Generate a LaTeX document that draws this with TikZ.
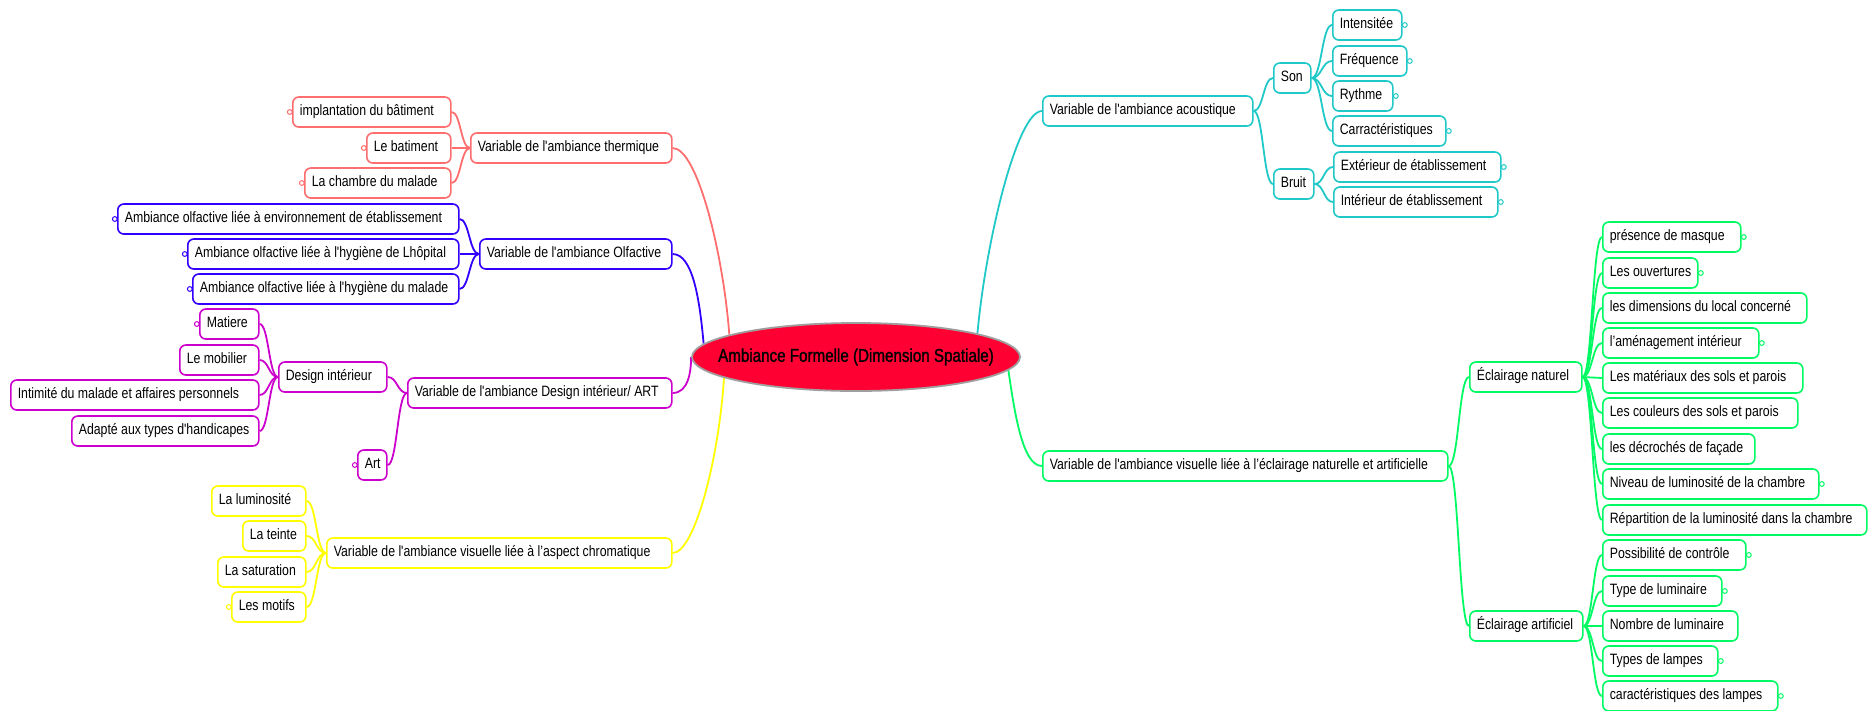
\documentclass[tikz,border=0pt]{standalone}
\usepackage{fontspec}
\newfontfamily\mapfont{Liberation Sans}[FakeStretch=0.82,Ligatures=TeXOff]
\newfontfamily\rootfont{Liberation Sans}[FakeStretch=0.82,FakeBold=1.2,Ligatures=TeXOff]
\usetikzlibrary{shapes.geometric,calc,backgrounds}

\definecolor{thermc}{RGB}{255,110,110}
\definecolor{olfc}{RGB}{51,0,255}
\definecolor{desc}{RGB}{204,0,204}
\definecolor{chromc}{RGB}{255,255,0}
\definecolor{acouc}{RGB}{32,200,200}
\definecolor{visc}{RGB}{0,250,100}
\definecolor{rootc}{RGB}{255,0,51}

\tikzset{
  mmbox/.style={draw=#1, line width=1.6pt, rounded corners=6pt, fill=white,
    minimum height=30pt, inner xsep=7pt, inner ysep=0pt,
    text height=11pt, text depth=3.5pt,
    font=\mapfont\fontsize{15}{18}\selectfont},
  link/.style={draw=#1, line width=1.8pt},
  knob/.style={draw=#1, line width=1pt, fill=white},
}

% box: name, colour, left x, right x, centre y, text
\newcommand\mmnode[6]{\node[mmbox=#2, anchor=west] (#1) at (#3,#5)
  {\makebox[\dimexpr#4pt-#3pt-14pt\relax][l]{#6}};}
% bracket-shaped link between two anchors
\newcommand\branch[3]{\draw[link=#1] let \p1=(#2), \p2=(#3) in
  (\p1) .. controls ({(\x1+\x2)/2},\y1) and ({(\x1+\x2)/2},\y2) .. (\p2);}
% small collapse knobs on the outer side of a box
\newcommand\knobL[2]{\draw[knob=#1] ([xshift=-2.2pt]#2.west) circle (2.4pt);}
\newcommand\knobR[2]{\draw[knob=#1] ([xshift=2.2pt]#2.east) circle (2.4pt);}

\begin{document}
\begin{tikzpicture}[x=1pt,y=-1pt]
\useasboundingbox (0,0) rectangle (1870,710);

% central topic
\node[ellipse, fill=rootc, draw=gray!75, line width=1.8pt,
      minimum width=328pt, minimum height=68pt, inner sep=0pt,
      font=\rootfont\fontsize{18.5}{22}\selectfont] (root) at (856,357)
  {\makebox[0pt]{Ambiance Formelle (Dimension Spatiale)}};

% ---- thermal ----
\mmnode{T}{thermc}{470}{671}{148}{Variable de l'ambiance thermique}
\mmnode{T1}{thermc}{292}{450}{112}{implantation du bâtiment}
\mmnode{T2}{thermc}{366}{450}{148}{Le batiment}
\mmnode{T3}{thermc}{304}{450}{183}{La chambre du malade}

% ---- olfactory ----
\mmnode{O}{olfc}{479}{671}{254}{Variable de l'ambiance Olfactive}
\mmnode{O1}{olfc}{117}{458}{219}{Ambiance olfactive liée à environnement de établissement}
\mmnode{O2}{olfc}{187}{458}{254}{Ambiance olfactive liée à l'hygiène de Lhôpital}
\mmnode{O3}{olfc}{192}{458}{289}{Ambiance olfactive liée à l'hygiène du malade}

% ---- interior design ----
\mmnode{D}{desc}{407}{671}{393}{Variable de l'ambiance Design intérieur/ ART}
\mmnode{DI}{desc}{278}{386}{377}{Design intérieur}
\mmnode{DA}{desc}{357}{386}{465}{Art}
\mmnode{M1}{desc}{199}{258}{324}{Matiere}
\mmnode{M2}{desc}{179}{258}{360}{Le mobilier}
\mmnode{M3}{desc}{10}{258}{395}{Intimité du malade et affaires personnels}
\mmnode{M4}{desc}{71}{258}{431}{Adapté aux types d'handicapes}

% ---- chromatic ----
\mmnode{C}{chromc}{326}{671}{553}{Variable de l'ambiance visuelle liée à l’aspect chromatique}
\mmnode{C1}{chromc}{211}{305}{501}{La luminosité}
\mmnode{C2}{chromc}{242}{305}{536}{La teinte}
\mmnode{C3}{chromc}{217}{305}{572}{La saturation}
\mmnode{C4}{chromc}{231}{305}{607}{Les motifs}

% ---- acoustic ----
\mmnode{A}{acouc}{1042}{1252}{111}{Variable de l'ambiance acoustique}
\mmnode{S}{acouc}{1273}{1310}{78}{Son}
\mmnode{B}{acouc}{1273}{1313}{184}{Bruit}
\mmnode{S1}{acouc}{1332}{1401}{25}{Intensitée}
\mmnode{S2}{acouc}{1332}{1406}{61}{Fréquence}
\mmnode{S3}{acouc}{1332}{1392}{96}{Rythme}
\mmnode{S4}{acouc}{1332}{1445}{131}{Carractéristiques}
\mmnode{B1}{acouc}{1333}{1500}{167}{Extérieur de établissement}
\mmnode{B2}{acouc}{1333}{1497}{202}{Intérieur de établissement}

% ---- lighting ----
\mmnode{V}{visc}{1042}{1447}{466}{Variable de l'ambiance visuelle liée à l’éclairage naturelle et artificielle}
\mmnode{N}{visc}{1469}{1581}{377}{Éclairage naturel}
\mmnode{F}{visc}{1469}{1582}{626}{Éclairage artificiel}
\mmnode{N1}{visc}{1602}{1740}{237}{présence de masque}
\mmnode{N2}{visc}{1602}{1697}{273}{Les ouvertures}
\mmnode{N3}{visc}{1602}{1806}{308}{les dimensions du local concerné}
\mmnode{N4}{visc}{1602}{1758}{343}{l’aménagement intérieur}
\mmnode{N5}{visc}{1602}{1802}{378}{Les matériaux des sols et parois}
\mmnode{N6}{visc}{1602}{1797}{413}{Les couleurs des sols et parois}
\mmnode{N7}{visc}{1602}{1754}{449}{les décrochés de façade}
\mmnode{N8}{visc}{1602}{1818}{484}{Niveau de luminosité de la chambre}
\mmnode{N9}{visc}{1602}{1866}{520}{Répartition de la luminosité dans la chambre}
\mmnode{F1}{visc}{1602}{1745}{555}{Possibilité de contrôle}
\mmnode{F2}{visc}{1602}{1721}{591}{Type de luminaire}
\mmnode{F3}{visc}{1602}{1737}{626}{Nombre de luminaire}
\mmnode{F4}{visc}{1602}{1717}{661}{Types de lampes}
\mmnode{F5}{visc}{1602}{1777}{696}{caractéristiques des lampes}

% knobs
\knobL{thermc}{T1}\knobL{thermc}{T2}\knobL{thermc}{T3}
\knobL{olfc}{O1}\knobL{olfc}{O2}\knobL{olfc}{O3}
\knobL{desc}{M1}\knobL{desc}{DA}
\knobL{chromc}{C4}
\knobR{acouc}{S1}\knobR{acouc}{S2}\knobR{acouc}{S3}\knobR{acouc}{S4}
\knobR{acouc}{B1}\knobR{acouc}{B2}
\knobR{visc}{N1}\knobR{visc}{N2}\knobR{visc}{N4}\knobR{visc}{N8}
\knobR{visc}{F1}\knobR{visc}{F2}\knobR{visc}{F4}\knobR{visc}{F5}

\begin{pgfonlayer}{background}
  % main branches
  \draw[link=thermc] (T.east) .. controls +(25,0) and +(-6,-80) .. (root.170);
  \draw[link=olfc] (O.east) .. controls +(20,0) and +(-4,-45) .. (root.175);
  \draw[link=desc] (D.east) .. controls +(16,0) and +(0,14) .. (root.west);
  \draw[link=chromc] (C.east) .. controls +(22,0) and +(-5,80) .. (root.189);
  \draw[link=acouc] (root.11) .. controls +(8,-90) and +(-25,0) .. (A.west);
  \draw[link=visc] (root.355) .. controls +(6,40) and +(-20,0) .. (V.west);

  % sub-branches, left side
  \foreach \c in {T1,T2,T3} {\branch{thermc}{T.west}{\c.east}}
  \foreach \c in {O1,O2,O3} {\branch{olfc}{O.west}{\c.east}}
  \foreach \c in {DI,DA} {\branch{desc}{D.west}{\c.east}}
  \foreach \c in {M1,M2,M3,M4} {\branch{desc}{DI.west}{\c.east}}
  \foreach \c in {C1,C2,C3,C4} {\branch{chromc}{C.west}{\c.east}}

  % sub-branches, right side
  \foreach \c in {S,B} {\branch{acouc}{A.east}{\c.west}}
  \foreach \c in {S1,S2,S3,S4} {\branch{acouc}{S.east}{\c.west}}
  \foreach \c in {B1,B2} {\branch{acouc}{B.east}{\c.west}}
  \foreach \c in {N,F} {\branch{visc}{V.east}{\c.west}}
  \foreach \c in {N1,N2,N3,N4,N5,N6,N7,N8,N9} {\branch{visc}{N.east}{\c.west}}
  \foreach \c in {F1,F2,F3,F4,F5} {\branch{visc}{F.east}{\c.west}}
\end{pgfonlayer}
\end{tikzpicture}
\end{document}
